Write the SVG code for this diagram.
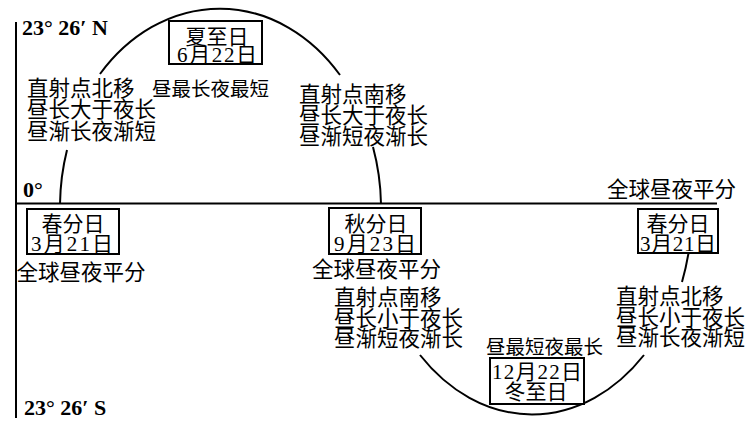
<svg xmlns="http://www.w3.org/2000/svg" width="750" height="430" viewBox="0 0 750 430">
<style>
.bg{fill:#fff}
.ln{fill:none;stroke:#000;stroke-width:2}
.box{fill:#fff;stroke:#000;stroke-width:2}
.cn{font-family:"Liberation Serif","Noto Sans CJK SC",serif;font-size:21.5px;fill:#000}
.sm{font-size:19.5px}
.bx{font-size:21px;text-anchor:middle}
.lat{font-family:"Liberation Serif",serif;font-size:22px;font-weight:bold;fill:#000}
</style>
<rect class="bg" x="0" y="0" width="750" height="430"/>
<g id="connectors">
  <line class="ln" x1="16" y1="22" x2="16" y2="418"/>
  <line class="ln" x1="16" y1="203.5" x2="717" y2="203.5" stroke-width="2.5"/>
  <path class="ln" d="M60,204 A160.5,196 0 0,1 67,150"/>
  <path class="ln" d="M100,74 A160.5,196 0 0,1 340,75"/>
  <path class="ln" d="M373,147 A160.5,196 0 0,1 381,204"/>
  <path class="ln" d="M420,355 A161,211 0 0,0 644,355"/>
  <path class="ln" d="M689,250 A161,211 0 0,1 682,282"/>
</g>
<g id="axis-labels">
  <text class="lat" x="22" y="35">23° 26′ N</text>
  <text class="lat" x="23" y="197">0°</text>
  <text class="lat" x="24" y="415">23° 26′ S</text>
</g>
<g id="summer-solstice">
  <rect class="box" x="169" y="21" width="93" height="43"/>
  <text class="cn bx" x="217" y="43.5">夏至日</text>
  <text class="cn bx" x="217" y="62" textLength="80">6月22日</text>
  <text class="cn sm" x="152" y="95.5">昼最长夜最短</text>
</g>
<g id="spring-to-summer">
  <text class="cn" x="27" y="95.5">直射点北移</text>
  <text class="cn" x="27" y="117">昼长大于夜长</text>
  <text class="cn" x="27" y="138.5">昼渐长夜渐短</text>
</g>
<g id="summer-to-autumn">
  <text class="cn" x="299" y="102">直射点南移</text>
  <text class="cn" x="299" y="123">昼长大于夜长</text>
  <text class="cn" x="299" y="144">昼渐短夜渐长</text>
</g>
<g id="spring-equinox-left">
  <rect class="box" x="27" y="209" width="92" height="45"/>
  <text class="cn bx" x="73" y="230.5">春分日</text>
  <text class="cn bx" x="72" y="251" textLength="82">3月21日</text>
  <text class="cn" x="16.5" y="279.5" font-size="22">全球昼夜平分</text>
</g>
<g id="autumn-equinox">
  <rect class="box" x="329" y="208" width="92" height="46"/>
  <text class="cn bx" x="376" y="231">秋分日</text>
  <text class="cn bx" x="375" y="251" textLength="82">9月23日</text>
  <text class="cn" x="312" y="276.5" font-size="22">全球昼夜平分</text>
</g>
<g id="autumn-to-winter">
  <text class="cn" x="334" y="305">直射点南移</text>
  <text class="cn" x="334" y="325.5">昼长小于夜长</text>
  <text class="cn" x="334" y="346">昼渐短夜渐长</text>
</g>
<g id="winter-solstice">
  <text class="cn sm" x="486" y="353.5" font-size="20">昼最短夜最长</text>
  <rect class="box" x="490" y="358" width="94" height="46"/>
  <text class="cn bx" x="537" y="379" textLength="90">12月22日</text>
  <text class="cn bx" x="536" y="398.5">冬至日</text>
</g>
<g id="winter-to-spring">
  <text class="cn" x="616" y="304">直射点北移</text>
  <text class="cn" x="616" y="324.5">昼长小于夜长</text>
  <text class="cn" x="616" y="345">昼渐长夜渐短</text>
</g>
<g id="spring-equinox-right">
  <text class="cn" x="607" y="196.5" font-size="22">全球昼夜平分</text>
  <rect class="box" x="638" y="209" width="80" height="44"/>
  <text class="cn bx" x="678" y="230.5">春分日</text>
  <text class="cn bx" x="678" y="251" textLength="76">3月21日</text>
</g>
</svg>
